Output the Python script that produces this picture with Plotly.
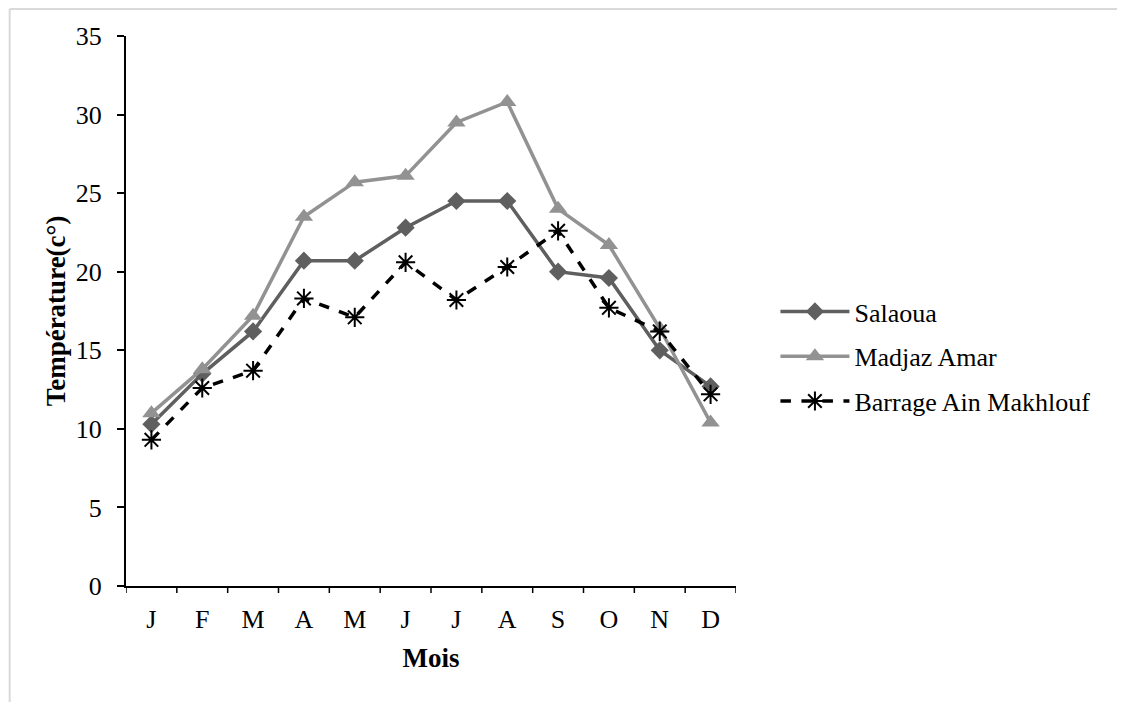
import plotly.graph_objects as go

months = ["J", "F", "M", "A", "M", "J", "J", "A", "S", "O", "N", "D"]
salaoua = [10.3, 13.5, 16.2, 20.7, 20.7, 22.8, 24.5, 24.5, 20.0, 19.6, 15.0, 12.7]
madjaz = [11.0, 13.8, 17.2, 23.5, 25.7, 26.1, 29.5, 30.8, 24.0, 21.7, 16.4, 10.4]
barrage = [9.3, 12.6, 13.7, 18.3, 17.1, 20.6, 18.2, 20.3, 22.6, 17.7, 16.2, 12.2]

x = list(range(len(months)))
FONT = "Liberation Serif, Times New Roman, serif"

fig = go.Figure()
fig.add_trace(go.Scatter(x=x, y=salaoua, name="Salaoua", mode="lines+markers",
                         legendgroup="a",
                         line=dict(color="#5f5f5f", width=3.5),
                         marker=dict(symbol="diamond", size=14, color="#5f5f5f")))
fig.add_trace(go.Scatter(x=x, y=madjaz, name="Madjaz Amar", mode="lines+markers",
                         legendgroup="b",
                         line=dict(color="#929292", width=3.5),
                         marker=dict(symbol="triangle-up", size=16, color="#929292")))
fig.add_trace(go.Scatter(x=x, y=barrage, name="Barrage Ain Makhlouf", mode="lines+markers",
                         legendgroup="c",
                         line=dict(color="#000000", width=3.5, dash="dash"),
                         marker=dict(symbol="asterisk-open", size=16,
                                     line=dict(color="#000000", width=2))))

# page body has an 8px margin; work in figure-local pixels
OFF = 8
W, H = 1125 - OFF, 702 - OFF
L, R, T, B = 125.5 - OFF, 736.5 - OFF, 36 - OFF, 586 - OFF
pw, ph = R - L, B - T

def px(v):
    return (v - OFF - L) / pw

def py(v):
    return (B - (v - OFF)) / ph

fig.update_layout(
    width=W, height=H,
    margin=dict(l=L, r=W - R, t=T, b=H - B, pad=0),
    paper_bgcolor="white", plot_bgcolor="white",
    font=dict(family=FONT, size=26, color="black"),
    showlegend=True,
    legend=dict(x=px(776), y=py(288), xanchor="left", yanchor="top",
                font=dict(family=FONT, size=26, color="black"),
                itemwidth=69, tracegroupgap=8, bgcolor="rgba(0,0,0,0)"),
    xaxis=dict(range=[-0.5, 11.5], tickmode="array", tickvals=x, ticktext=months,
               showgrid=False, zeroline=False, showline=True, linecolor="black",
               linewidth=2, ticks="", ticklabelstandoff=9,
               tickfont=dict(family=FONT, size=26),
               title=dict(text="<b>Mois</b>", font=dict(family=FONT, size=27), standoff=15),
               fixedrange=True),
    yaxis=dict(range=[0, 35], dtick=5, showgrid=False, zeroline=False, showline=True,
               linecolor="black", linewidth=2, ticks="outside", ticklen=7, tickwidth=1.5,
               tickcolor="black", ticklabelstandoff=10,
               tickfont=dict(family=FONT, size=26),
               title=dict(text="<b>Température(c°)</b>", font=dict(family=FONT, size=27), standoff=2),
               fixedrange=True),
)

shapes = []
# x-axis boundary ticks between categories
for i in range(len(months) + 1):
    xv = i - 0.5
    shapes.append(dict(type="line", xref="x", yref="paper", x0=xv, x1=xv,
                       y0=0, y1=-7 / ph, line=dict(color="black", width=1.5)))
# outer light border (top and left)
shapes.append(dict(type="line", xref="paper", yref="paper", x0=px(9), x1=px(1125),
                   y0=py(9), y1=py(9), line=dict(color="#d9d9d9", width=2)))
shapes.append(dict(type="line", xref="paper", yref="paper", x0=px(9), x1=px(9),
                   y0=py(9), y1=py(702), line=dict(color="#d9d9d9", width=2)))
fig.update_layout(shapes=shapes)

fig.write_html("out.html")
